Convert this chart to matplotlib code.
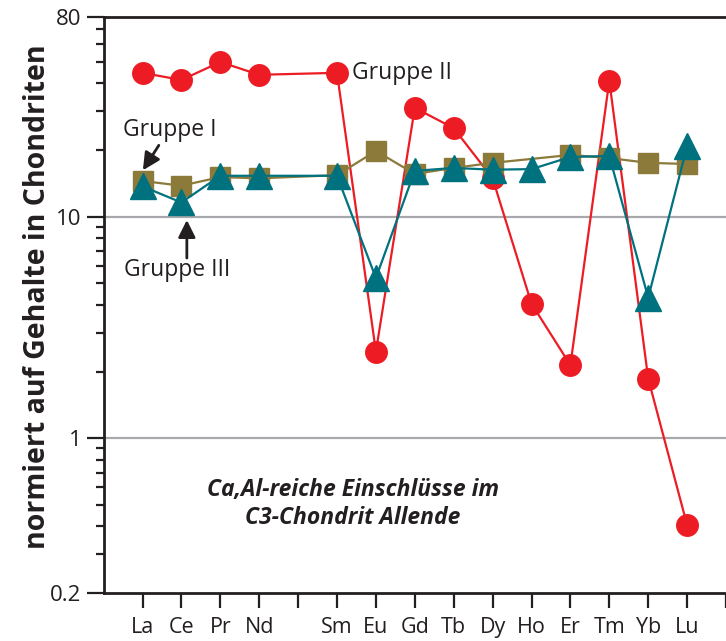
import numpy as np
import matplotlib
matplotlib.use("Agg")
import matplotlib.pyplot as plt
from matplotlib.ticker import LogLocator, NullFormatter, FixedLocator

plt.rcParams['font.family'] = ['Open Sans', 'DejaVu Sans']

# Rare earth elements (Pm has no data)
elements = ["La", "Ce", "Pr", "Nd", "Pm", "Sm", "Eu", "Gd", "Tb", "Dy", "Ho", "Er", "Tm", "Yb", "Lu"]
tick_labels = ["La", "Ce", "Pr", "Nd", "", "Sm", "Eu", "Gd", "Tb", "Dy", "Ho", "Er", "Tm", "Yb", "Lu"]

# Chondrite-normalised abundances
gruppe_ii = [44.6, 41.4, 49.9, 43.7, None, 44.6, 2.46, 31.0, 25.1, 14.9, 4.05, 2.14, 41.1, 1.86, 0.406]
gruppe_i = [14.5, 13.8, 15.1, 14.9, None, 15.4, 19.8, 15.6, 16.6, 17.5, None, 19.0, 18.4, 17.5, 17.3]
gruppe_iii = [13.7, 11.6, 15.3, 15.3, None, 15.3, 5.29, 16.1, 16.6, 16.3, 16.4, 18.6, 18.8, 4.31, 20.8]

RED = "#ed1c24"
OLIVE = "#8c7a3a"
TEAL = "#00717e"
INK = "#231f20"
GRID = "#a7a9ac"

pos = np.arange(1, len(elements) + 1)


def valid(values):
    xs = [p for p, v in zip(pos, values) if v is not None]
    ys = [v for v in values if v is not None]
    return xs, ys


fig = plt.figure(figsize=(7.26, 6.41), dpi=100)
ax = fig.add_axes([103.6 / 726, 1 - 593.2 / 641, 1 - 103.6 / 726, (593.2 - 16.6) / 641])

ax.set_yscale("log")
ax.set_ylim(0.2, 80)
ax.set_xlim(0, 16)

ax.axhline(10, color=GRID, lw=1.6, zorder=0)
ax.axhline(1, color=GRID, lw=1.6, zorder=0)

x, y = valid(gruppe_i)
ax.plot(x, y, color=OLIVE, lw=1.6, marker="s", ms=14, mfc=OLIVE, mec=OLIVE, zorder=3)
x, y = valid(gruppe_ii)
ax.plot(x, y, color=RED, lw=1.6, marker="o", ms=15.5, mfc=RED, mec=RED, zorder=2)
x, y = valid(gruppe_iii)
ax.plot(x, y, color=TEAL, lw=1.6, marker="^", ms=18.5, mfc=TEAL, mec=TEAL, zorder=4)

# Axes styling
ax.spines["right"].set_visible(False)
for s in ("left", "bottom", "top"):
    ax.spines[s].set_linewidth(2.0)
    ax.spines[s].set_color(INK)

ax.yaxis.set_major_locator(FixedLocator([0.2, 1, 10, 80]))
ax.set_yticklabels(["0.2", "1", "10", "80"])
ax.yaxis.set_minor_locator(LogLocator(base=10, subs=np.arange(2, 10)))
ax.yaxis.set_minor_formatter(NullFormatter())
ax.tick_params(axis="y", which="major", direction="out", length=12, width=1.6,
               color=INK, labelsize=16, labelcolor=INK, pad=4)
ax.tick_params(axis="y", which="minor", direction="out", length=6, width=1.6, color=INK)

ax.set_xticks(list(pos) + [16])
ax.set_xticklabels(tick_labels + [""])
ax.tick_params(axis="x", which="major", direction="out", length=11, width=1.6,
               color=INK, labelsize=15.5, labelcolor=INK, pad=6)
ax.tick_params(axis="x", which="minor", length=0)

fig.text(38 / 726, 1 - 297 / 641, "normiert auf Gehalte in Chondriten", rotation=90,
         ha="center", va="center", fontsize=20.5, fontweight="bold", color=INK)

# Group labels
ax.text(6.39, 44.6, "Gruppe II", ha="left", va="center", fontsize=16.5, color=INK)
ax.text(1.71, 24.6, "Gruppe I", ha="center", va="center", fontsize=16.5, color=INK)
ax.text(1.89, 5.74, "Gruppe III", ha="center", va="center", fontsize=16.5, color=INK)

arrow = dict(arrowstyle="-|>", color=INK, lw=2, mutation_scale=26, shrinkA=0, shrinkB=0)
ax.annotate("", xy=(1.01, 16.2), xytext=(1.42, 21.0), arrowprops=arrow)
ax.annotate("", xy=(2.14, 9.66), xytext=(2.14, 6.51), arrowprops=arrow)

ax.text(6.41, 0.505, "Ca,Al-reiche Einschlüsse im\nC3-Chondrit Allende", ha="center", va="center",
        fontsize=16.5, fontweight="bold", fontstyle="italic", color=INK, linespacing=1.25)

fig.savefig("out.png", dpi=100)
